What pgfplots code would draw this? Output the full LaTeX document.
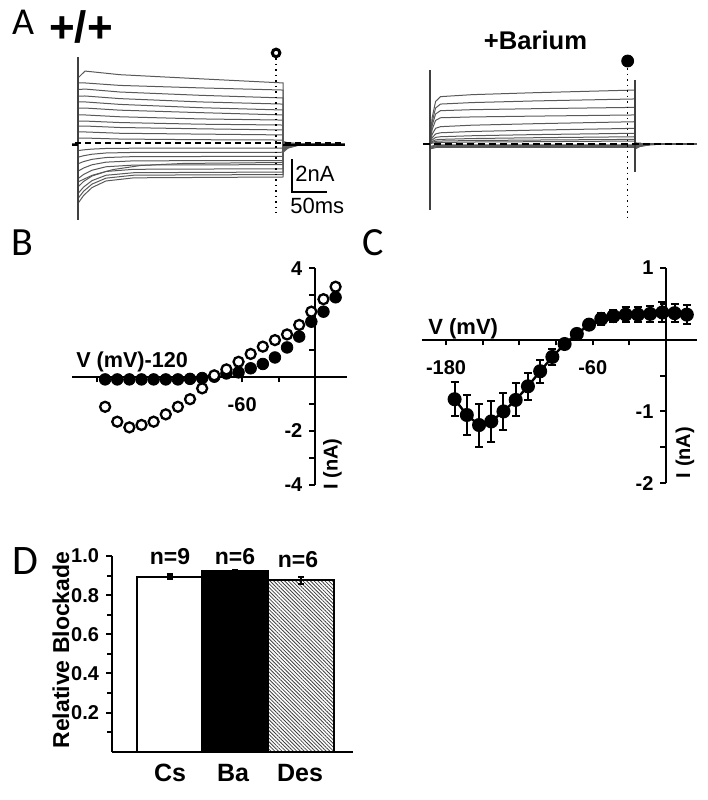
\documentclass[border=0pt]{standalone}
\usepackage{fontspec}
\setmainfont{Liberation Sans}
\newfontfamily\lett{Carlito}
\usepackage{pgfplots}
\pgfplotsset{compat=1.18}
\usetikzlibrary{patterns.meta}

\begin{document}
\begin{tikzpicture}[x=0.5pt,y=0.5pt]
\useasboundingbox (0,0) rectangle (708,800);
\pgfplotsset{
  tr/.style={black!65, line width=0.5pt},
  trace axis/.style={scale only axis, width=138.25pt, height=87.45pt,
    xmin=-10, xmax=385, ymin=-5, ymax=5.6, axis lines=none, clip=false},
  ivaxis/.style={scale only axis, axis lines=middle,
    axis line style={line width=1pt,-},
    every inner x axis line/.append style={-},
    every inner y axis line/.append style={-},
    x axis line style={-}, y axis line style={-},
    tick align=outside, major tick length=2.8pt,
    tick style={line width=1pt, black},
    tick label style={font=\fontsize{10}{11}\selectfont\bfseries},
    xticklabel style={yshift=-4pt}, clip=false},
}

% ---------------- Panel A, +/+ ----------------
\begin{axis}[trace axis, at={(35.5pt,286.75pt)}, anchor=south west]
\addplot[tr] coordinates {(-8,0)(0,0)(0,4.0)(10,4.42)(60,4.2)(175,3.95)(293,3.70)(293,-0.5)(300,-0.25)(315,-0.075)(340,0)(381,0)};
\addplot[tr] coordinates {(-8,0)(0,0)(0,3.7)(10,3.70)(60,3.55)(175,3.40)(293,3.27)(293,-0.45)(300,-0.225)(315,-0.07)(340,0)(381,0)};
\addplot[tr] coordinates {(-8,0)(0,0)(0,3.3)(10,3.33)(60,3.15)(175,2.95)(293,2.79)(293,-0.4)(300,-0.2)(315,-0.06)(340,0)(381,0)};
\addplot[tr] coordinates {(-8,0)(0,0)(0,2.9)(10,2.91)(60,2.75)(175,2.55)(293,2.42)(293,-0.35)(300,-0.175)(315,-0.05)(340,0)(381,0)};
\addplot[tr] coordinates {(-8,0)(0,0)(0,2.55)(10,2.55)(60,2.4)(175,2.2)(293,2.06)(293,-0.3)(300,-0.15)(315,-0.045)(340,0)(381,0)};
\addplot[tr] coordinates {(-8,0)(0,0)(0,2.18)(10,2.18)(60,2.05)(175,1.9)(293,1.76)(293,-0.25)(300,-0.125)(315,-0.04)(340,0)(381,0)};
\addplot[tr] coordinates {(-8,0)(0,0)(0,1.76)(10,1.76)(60,1.65)(175,1.52)(293,1.45)(293,-0.2)(300,-0.1)(315,-0.03)(340,0)(381,0)};
\addplot[tr] coordinates {(-8,0)(0,0)(0,1.39)(10,1.39)(60,1.3)(175,1.2)(293,1.15)(293,-0.15)(300,-0.075)(315,-0.02)(340,0)(381,0)};
\addplot[tr] coordinates {(-8,0)(0,0)(0,1.09)(10,1.09)(60,1.0)(175,0.92)(293,0.85)(293,-0.1)(300,-0.05)(315,-0.015)(340,0)(381,0)};
\addplot[tr] coordinates {(-8,0)(0,0)(0,0.73)(10,0.73)(60,0.65)(175,0.6)(293,0.55)(293,-0.05)(300,-0.025)(315,-0.01)(340,0)(381,0)};
\addplot[tr] coordinates {(-8,0)(0,0)(0,0.36)(10,0.36)(60,0.3)(175,0.26)(293,0.24)(293,0)(381,0)};
\addplot[tr] coordinates {(-8,0)(0,0)(0,-0.4)(8,-0.355)(20,-0.31)(40,-0.27)(80,-0.255)(293,-0.25)(293,0.15)(300,0.075)(315,0.02)(340,0)(381,0)};
\addplot[tr] coordinates {(-8,0)(0,0)(0,-0.8)(8,-0.71)(20,-0.62)(40,-0.545)(80,-0.51)(293,-0.5)(293,0.12)(300,0.06)(315,0.02)(340,0)(381,0)};
\addplot[tr] coordinates {(-8,0)(0,0)(0,-1.2)(8,-1.065)(20,-0.93)(40,-0.82)(80,-0.764)(293,-0.75)(293,0.1)(300,0.05)(315,0.015)(340,0)(381,0)};
\addplot[tr] coordinates {(-8,0)(0,0)(0,-1.65)(8,-1.455)(20,-1.26)(40,-1.1)(80,-1.02)(293,-1.0)(293,0.08)(300,0.04)(315,0.01)(340,0)(381,0)};
\addplot[tr] coordinates {(-8,0)(0,0)(0,-2.1)(8,-1.845)(20,-1.59)(40,-1.38)(80,-1.276)(293,-1.25)(293,0.05)(300,0.025)(315,0.01)(340,0)(381,0)};
\addplot[tr] coordinates {(-8,0)(0,0)(0,-2.6)(8,-2.27)(20,-1.94)(40,-1.665)(80,-1.533)(293,-1.5)(293,0.03)(300,0.015)(340,0)(381,0)};
\addplot[tr] coordinates {(-8,0)(0,0)(0,-3.0)(8,-2.61)(20,-2.22)(40,-1.895)(80,-1.739)(293,-1.7)(293,0)(381,0)};
\addplot[tr] coordinates {(-8,0)(0,0)(0,-3.3)(8,-2.865)(20,-2.43)(40,-2.07)(80,-1.89)(293,-1.85)(293,-0.03)(300,-0.015)(340,0)(381,0)};
\addplot[tr] coordinates {(-8,0)(0,0)(0,-3.6)(8,-3.12)(20,-2.64)(40,-2.24)(80,-2.05)(293,-2.0)(293,-0.05)(300,-0.025)(340,0)(381,0)};
\addplot[tr] coordinates {(-8,0)(0,0)(0,-2.3)(20,-1.9)(50,-1.55)(90,-1.3)(150,-1.18)(293,-1.12)(293,0.05)(300,0.02)(340,0)(381,0)};
\addplot[black!75, line width=0.6pt] coordinates {(0,5.27)(0,-4.6)};
\addplot[black, line width=0.7pt, dash pattern=on 3pt off 2pt] coordinates {(-4.3,0.06)(381,0.06)};
\addplot[black, line width=0.8pt] coordinates {(-9,-0.06)(0,-0.06)};
\addplot[black, line width=0.8pt] coordinates {(293,-0.06)(381,-0.06)};
\addplot[black, line width=0.75pt, dotted] coordinates {(283,5.21)(283,-4.18)};
\addplot[only marks, mark=*, mark size=1.9pt, mark options={fill=white, draw=black, line width=1.5pt}] coordinates {(283,5.52)};
\addplot[black, line width=1pt] coordinates {(305.7,-0.91)(305.7,-2.91)(355.7,-2.91)};
\end{axis}

% ---------------- Panel A, +Barium ----------------
\begin{axis}[trace axis, at={(211.5pt,286.75pt)}, anchor=south west]
\addplot[tr] coordinates {(-8,0)(0,0)(3,1.58)(8,2.58)(15,2.87)(60,2.99)(150,3.11)(293,3.27)(293,-0.3)(300,-0.15)(315,-0.045)(340,0)(381,0)};
\addplot[tr] coordinates {(-8,0)(0,0)(3,1.33)(8,2.18)(15,2.42)(60,2.51)(150,2.61)(293,2.73)(293,-0.27)(300,-0.135)(315,-0.04)(340,0)(381,0)};
\addplot[tr] coordinates {(-8,0)(0,0)(3,1.11)(8,1.82)(15,2.02)(60,2.08)(150,2.14)(293,2.22)(293,-0.24)(300,-0.12)(315,-0.036)(340,0)(381,0)};
\addplot[tr] coordinates {(-8,0)(0,0)(3,0.87)(8,1.43)(15,1.59)(60,1.64)(150,1.69)(293,1.76)(293,-0.21)(300,-0.105)(315,-0.03)(340,0)(381,0)};
\addplot[tr] coordinates {(-8,0)(0,0)(3,0.58)(8,0.95)(15,1.05)(60,1.14)(150,1.23)(293,1.35)(293,-0.18)(300,-0.09)(315,-0.027)(340,0)(381,0)};
\addplot[tr] coordinates {(-8,0)(0,0)(3,0.37)(8,0.61)(15,0.68)(60,0.76)(150,0.84)(293,0.95)(293,-0.15)(300,-0.075)(315,-0.02)(340,0)(381,0)};
\addplot[tr] coordinates {(-8,0)(0,0)(3,0.24)(8,0.40)(15,0.44)(60,0.50)(150,0.57)(293,0.65)(293,-0.12)(300,-0.06)(315,-0.018)(340,0)(381,0)};
\addplot[tr] coordinates {(-8,0)(0,0)(3,0.15)(8,0.25)(15,0.28)(60,0.33)(150,0.38)(293,0.44)(293,-0.09)(300,-0.045)(315,-0.013)(340,0)(381,0)};
\addplot[tr] coordinates {(-8,0)(0,0)(3,0.10)(8,0.16)(15,0.18)(60,0.21)(150,0.24)(293,0.28)(293,-0.06)(300,-0.03)(340,0)(381,0)};
\addplot[tr] coordinates {(-8,0)(0,0)(3,0.05)(8,0.08)(15,0.09)(60,0.12)(150,0.14)(293,0.18)(293,-0.03)(300,-0.015)(340,0)(381,0)};
\addplot[tr] coordinates {(-8,0)(0,0)(0,-0.15)(10,-0.05)(293,-0.05)(293,0.05)(310,0.01)(381,0)};
\addplot[tr] coordinates {(-8,0)(0,0)(0,-0.2)(10,-0.1)(293,-0.1)(293,0.05)(310,0.01)(381,0)};
\addplot[tr] coordinates {(-8,0)(0,0)(0,-0.25)(10,-0.15)(293,-0.15)(293,0.05)(310,0.01)(381,0)};
\addplot[tr] coordinates {(-8,0)(0,0)(0,-0.3)(10,-0.2)(293,-0.2)(293,0.05)(310,0.01)(381,0)};
\addplot[black!75, line width=0.6pt] coordinates {(0,4.48)(0,-4.0)};
\addplot[black!75, line width=0.6pt] coordinates {(293,3.88)(293,-1.7)};
\addplot[black, line width=0.9pt, dash pattern=on 3.5pt off 2pt] coordinates {(-10,0)(381,0)};
\addplot[black, line width=0.75pt, dotted] coordinates {(282.4,4.6)(282.4,-4.73)};
\addplot[only marks, mark=*, mark size=3pt, black] coordinates {(282.4,5.03)};
\end{axis}

% ---------------- Panel B ----------------
\begin{axis}[ivaxis, at={(36pt,157.45pt)}, anchor=south west, width=137.5pt, height=108.4pt,
  xmin=-200.3, xmax=26.4, ymin=-4, ymax=4,
  xtick={-180,-150,-120,-90,-60,-30,0}, xticklabels={,,,,-60,,},
  ytick={-4,-3,-2,-1,0,1,2,3,4}, yticklabels={-4,,-2,,,,,,4}]
\addplot[only marks, mark=*, mark size=2.9pt, black] coordinates {
(-173,-0.1)(-163,-0.1)(-153,-0.1)(-143,-0.1)(-133,-0.1)(-123,-0.1)(-113,-0.1)(-103,-0.08)(-93,-0.05)(-83,0.0)
(-73,0.12)(-63,0.16)(-53,0.31)(-43,0.47)(-33,0.71)(-23,1.08)(-13,1.48)(-3,2.03)(7,2.40)(17,2.93)};
\addplot[only marks, mark=*, mark size=2.5pt, mark options={fill=white, draw=black, line width=1.15pt}] coordinates {
(-173,-1.11)(-163,-1.66)(-153,-1.87)(-143,-1.78)(-133,-1.66)(-123,-1.39)(-113,-1.11)(-103,-0.83)(-93,-0.43)(-83,0.05)
(-73,0.27)(-63,0.55)(-53,0.84)(-43,1.11)(-33,1.35)(-23,1.56)(-13,1.91)(-3,2.40)(7,2.86)(17,3.32)};
\end{axis}

% ---------------- Panel C ----------------
\begin{axis}[ivaxis, at={(210.8pt,158.45pt)}, anchor=south west, width=137.5pt, height=107.55pt,
  xmin=-200, xmax=25, ymin=-2, ymax=1,
  xtick={-180,-150,-120,-90,-60,-30,0}, xticklabels={-180,,,,-60,,},
  ytick={-2,-1.5,-1,-0.5,0,0.5,1}, yticklabels={-2,,-1,,,,1}]
\addplot[black, line width=1.2pt, mark=*, mark size=2.9pt, mark options={solid, fill=black},
  error bars/.cd, y dir=both, y explicit,
  error bar style={line width=1pt, black},
  error mark options={rotate=90, line width=1pt, mark size=2pt, black}] coordinates {
(-173,-0.83) +- (0,0.24)
(-163,-1.05) +- (0,0.28)
(-153,-1.19) +- (0,0.30)
(-143,-1.14) +- (0,0.29)
(-133,-1.00) +- (0,0.26)
(-123,-0.84) +- (0,0.23)
(-113,-0.65) +- (0,0.19)
(-103,-0.44) +- (0,0.16)
(-93,-0.24) +- (0,0.11)
(-83,-0.06) +- (0,0.05)
(-73,0.08) +- (0,0.04)
(-63,0.21) +- (0,0.05)
(-53,0.29) +- (0,0.08)
(-43,0.33) +- (0,0.09)
(-33,0.35) +- (0,0.10)
(-23,0.35) +- (0,0.10)
(-13,0.36) +- (0,0.11)
(-3,0.38) +- (0,0.14)
(7,0.37) +- (0,0.13)
(17,0.35) +- (0,0.13)};
\end{axis}

% ---------------- Panel D ----------------
\begin{axis}[at={(55.85pt,24.15pt)}, anchor=south west, scale only axis, width=120.55pt, height=97.85pt,
  xmin=0.12, xmax=3.79, ymin=0, ymax=1,
  axis lines=left, axis line style={line width=1pt,-},
  every outer x axis line/.append style={-}, every outer y axis line/.append style={-},
  x axis line style={-}, y axis line style={-},
  xtick=\empty, ytick={0.2,0.4,0.6,0.8,1.0}, yticklabels={0.2,0.4,0.6,0.8,1.0},
  minor ytick={0.1,0.3,0.5,0.7,0.9},
  tick align=outside, major tick length=2.8pt, minor tick length=2.2pt,
  tick style={line width=1pt, black},
  tick label style={font=\fontsize{10}{11}\selectfont\bfseries},
  clip=false]
\addplot[ybar, bar width=1, bar shift=0pt, draw=black, line width=1pt, fill=white,
  error bars/.cd, y dir=both, y explicit, error bar style={line width=1.5pt, black},
  error mark options={rotate=90, line width=1.2pt, mark size=1.5pt, black}]
  coordinates {(1,0.894) +- (0,0.012)};
\addplot[ybar, bar width=1, bar shift=0pt, draw=black, line width=1pt, fill=black,
  error bars/.cd, y dir=both, y explicit, error bar style={line width=1pt, black},
  error mark options={rotate=90, line width=1pt, mark size=1.5pt, black}]
  coordinates {(2,0.921) +- (0,0.006)};
\addplot[ybar, bar width=1, bar shift=0pt, draw=black, line width=1pt,
  pattern={Lines[angle=-45, distance=1.3pt, line width=0.4pt]}, pattern color=black!75,
  error bars/.cd, y dir=both, y explicit, error bar style={line width=1pt, black},
  error mark options={rotate=90, line width=1pt, mark size=1.5pt, black}]
  coordinates {(3,0.877) +- (0,0.018)};
\end{axis}

% ---------------- Text ----------------
\node[anchor=base] at (23,765) {\lett\fontsize{19}{19}\selectfont A};
\node[anchor=center] at (81,773) {\fontsize{22}{22}\selectfont\bfseries +/+};
\node[anchor=base] at (535.5,750) {\fontsize{12.8}{13}\selectfont\bfseries +Barium};
\node[anchor=base west, inner sep=0pt] at (295,618.3) {\fontsize{11}{11}\selectfont 2nA};
\node[anchor=base west, inner sep=0pt] at (290,586.7) {\fontsize{11}{11}\selectfont 50ms};

\node[anchor=base] at (22.5,544.3) {\lett\fontsize{20}{20}\selectfont B};
\node[anchor=base] at (373,544.3) {\lett\fontsize{20}{20}\selectfont C};
\node[anchor=base] at (25,225) {\lett\fontsize{21}{21}\selectfont D};

\node[anchor=base east, inner sep=0pt] at (188.3,432.7) {\fontsize{10.8}{11}\selectfont\bfseries V (mV)-120};
\node[rotate=90, anchor=center, inner sep=0pt] at (332.5,336) {\fontsize{10}{10}\selectfont\bfseries I (nA)};
\node[anchor=base west, inner sep=0pt] at (428,465.7) {\fontsize{11}{11}\selectfont\bfseries V (mV)};
\node[rotate=90, anchor=center, inner sep=0pt] at (685,347.5) {\fontsize{10}{10}\selectfont\bfseries I (nA)};

\node[rotate=90, anchor=center, inner sep=0pt] at (61,150) {\fontsize{11.5}{12}\selectfont\bfseries Relative Blockade};
\node[anchor=base, inner sep=0pt] at (170,235) {\fontsize{11.5}{11.5}\selectfont\bfseries n=9};
\node[anchor=base, inner sep=0pt] at (235,235) {\fontsize{11.5}{11.5}\selectfont\bfseries n=6};
\node[anchor=base, inner sep=0pt] at (298,232.3) {\fontsize{11.5}{11.5}\selectfont\bfseries n=6};
\node[anchor=base, inner sep=0pt] at (170,18.3) {\fontsize{12.5}{12.5}\selectfont\bfseries Cs};
\node[anchor=base, inner sep=0pt] at (233,18.3) {\fontsize{12.5}{12.5}\selectfont\bfseries Ba};
\node[anchor=base, inner sep=0pt] at (300,18.3) {\fontsize{12.5}{12.5}\selectfont\bfseries Des};
\end{tikzpicture}
\end{document}
